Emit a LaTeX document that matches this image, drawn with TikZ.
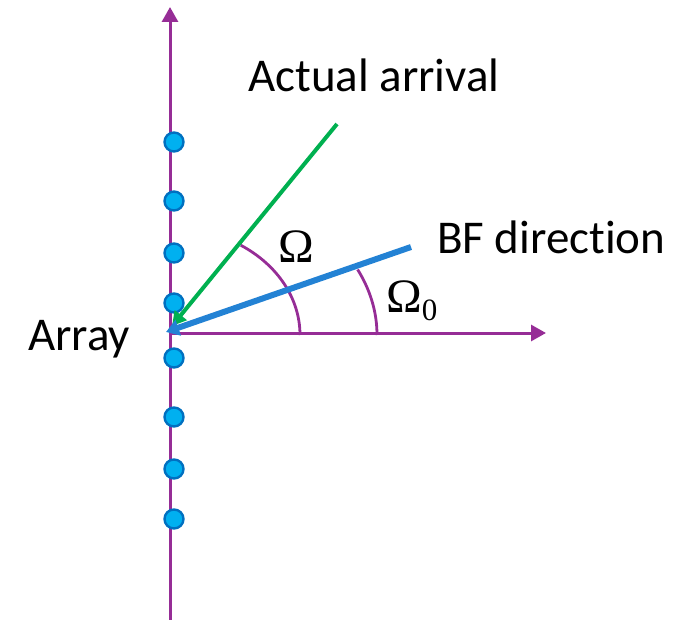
\documentclass[tikz,border=0pt]{standalone}
\usepackage{fontspec}
\setmainfont{Carlito}[Ligatures=NoCommon]
\newfontfamily\symfont{Liberation Serif}
\usepackage{tikz}
\usetikzlibrary{arrows.meta}
\definecolor{axpurple}{RGB}{150,45,150}
\definecolor{arrgreen}{RGB}{0,176,80}
\definecolor{bfblue}{RGB}{35,130,212}
\definecolor{eltfill}{RGB}{0,176,240}
\definecolor{eltline}{RGB}{0,112,192}
\tikzset{
  axis/.style={axpurple,line width=3pt,-{Triangle[length=15pt,width=16pt]}},
  anglearc/.style={axpurple,line width=2.8pt},
  elt/.style={circle,fill=eltfill,draw=eltline,line width=2.4pt,minimum size=19pt,inner sep=0pt},
  lbl/.style={font=\fontsize{47}{56}\selectfont,inner sep=0pt,anchor=base west},
  sym/.style={font=\fontsize{48}{57}\selectfont\symfont,inner sep=0pt,anchor=base west}
}

\begin{document}
\begin{tikzpicture}[x=1pt,y=-1pt]
  \useasboundingbox (0,0) rectangle (695,620);
  % reference points
  \coordinate (O) at (170,333);
  \coordinate (axBot) at (170,620);
  \coordinate (axTop) at (170,7);
  \coordinate (axRight) at (546,333);
  \coordinate (arrEnd) at (337,124);
  \coordinate (arrTip) at (172,326);
  \coordinate (bfEnd) at (411,247);
  \coordinate (bfTip) at (166,332);

  % axes
  \draw[axis] (axBot) -- (axTop);
  \draw[axis] (O) -- (axRight);

  % array elements
  \foreach \y [count=\i] in {142,201,253,303,358,417,469,519}
    \node[elt] (e\i) at (174,\y) {};

  % angle arcs
  \draw[anglearc] (300,335) arc[start angle=0,end angle=57,x radius=130pt,y radius=107pt];
  \draw[anglearc] (377,335) arc[start angle=0,end angle=25,x radius=207pt,y radius=155pt];

  % arrival and beamforming directions
  \draw[arrgreen,line width=4pt,-{Triangle[length=14pt,width=15pt]}] (arrEnd) -- (arrTip);
  \draw[bfblue,line width=6pt,-{Triangle[length=13pt,width=16pt]}] (bfEnd) -- (bfTip);

  % labels
  \node[lbl] (actual) at (248,92) {Actual arrival};
  \node[lbl] (bfdir) at (437,253) {BF direction};
  \node[lbl] (array) at (28,350) {Array};
  \node[sym] (omega) at (278,262) {Ω};
  \node[sym] (omega0) at (386,312) {Ω\raisebox{-8pt}{\fontsize{31}{37}\selectfont 0}};
\end{tikzpicture}
\end{document}
